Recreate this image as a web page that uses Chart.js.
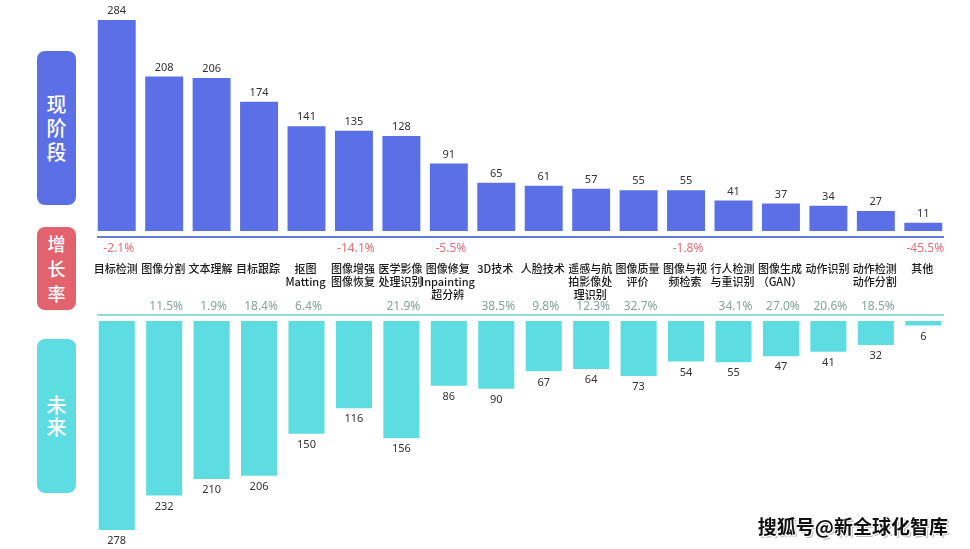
<!DOCTYPE html>
<html>
<head>
<meta charset="utf-8">
<script src="https://cdn.jsdelivr.net/npm/chart.js@4/dist/chart.umd.min.js"></script>
<style>
  html, body { margin: 0; padding: 0; background: #fff; }
  #wrap { position: relative; width: 970px; height: 549px; overflow: hidden; font-family: "Noto Sans CJK SC", "Noto Sans", sans-serif; }
  canvas { position: absolute; left: 0; }
  .tag { position: absolute; left: 37px; width: 39px; border-radius: 8px; color: #fff; display: flex; flex-direction: column; align-items: center; justify-content: center; font-weight: 500; }
  .mark { position: absolute; right: 22px; bottom: 10px; font-size: 19px; font-weight: 700; color: #111; letter-spacing: 0px;
    text-shadow: 1px 1px 0 #fff, -1px -1px 0 #fff, 1px -1px 0 #fff, -1px 1px 0 #fff, 2px 2px 0 #bbb; }
</style>
</head>
<body>
<div id="wrap">
  <div class="tag" style="top:51px;height:154px;background:#5b6fe6;font-size:20px;line-height:24px;">现<br>阶<br>段</div>
  <div class="tag" style="top:227px;height:83px;background:#e2636e;font-size:18px;line-height:25px;">增<br>长<br>率</div>
  <div class="tag" style="top:339px;height:154px;background:#5ddde1;font-size:20px;line-height:22px;">未<br>来</div>
  <canvas id="topChart" width="970" height="320" style="top:0"></canvas>
  <canvas id="botChart" width="970" height="249" style="top:300px"></canvas>
  <div class="mark">搜狐号@新全球化智库</div>
</div>
<script>
// categories (multi-line labels)
const categories = [
  ['目标检测'], ['图像分割'], ['文本理解'], ['目标跟踪'], ['抠图', 'Matting'],
  ['图像增强', '图像恢复'], ['医学影像', '处理识别'], ['图像修复', 'Inpainting', '超分辨'],
  ['3D技术'], ['人脸技术'], ['遥感与航', '拍影像处', '理识别'], ['图像质量', '评价'],
  ['图像与视', '频检索'], ['行人检测', '与重识别'], ['图像生成', '（GAN）'], ['动作识别'],
  ['动作检测', '动作分割'], ['其他']
];
const currentValues = [284, 208, 206, 174, 141, 135, 128, 91, 65, 61, 57, 55, 55, 41, 37, 34, 27, 11];
const futureValues = [278, 232, 210, 206, 150, 116, 156, 86, 90, 67, 64, 73, 54, 55, 47, 41, 32, 6];
const growthRates = [-2.1, 11.5, 1.9, 18.4, 6.4, -14.1, 21.9, -5.5, 38.5, 9.8, 12.3, 32.7, -1.8, 34.1, 27.0, 20.6, 18.5, -45.5];

const BLUE = '#5b6fe6';
const CYAN = '#5ddde1';
const numFont = '11px "Noto Sans", "Open Sans", sans-serif';

// numbers next to the bar ends
const valueLabels = {
  id: 'valueLabels',
  afterDatasetsDraw(chart, args, opts) {
    const ctx = chart.ctx;
    const meta = chart.getDatasetMeta(0);
    const data = chart.data.datasets[0].data;
    ctx.save();
    ctx.font = numFont;
    ctx.fillStyle = '#333';
    ctx.textAlign = 'center';
    ctx.textBaseline = 'middle';
    meta.data.forEach((bar, i) => {
      const p = bar.getProps(['x', 'y'], true);
      ctx.fillText(String(data[i]), p.x, p.y + opts.offset);
    });
    ctx.restore();
  }
};

// base line under / over the bars
const baseLine = {
  id: 'baseLine',
  afterDraw(chart, args, opts) {
    const ctx = chart.ctx;
    const a = chart.chartArea;
    ctx.save();
    ctx.strokeStyle = opts.color;
    ctx.lineWidth = 2;
    ctx.beginPath();
    ctx.moveTo(a.left + 4, opts.y);
    ctx.lineTo(a.right - 3, opts.y);
    ctx.stroke();
    ctx.restore();
  }
};

// category names and growth rates between the two charts
const middleText = {
  id: 'middleText',
  afterDraw(chart) {
    const ctx = chart.ctx;
    const x = chart.scales.x;
    ctx.save();
    ctx.textAlign = 'center';
    ctx.textBaseline = 'middle';
    categories.forEach((lines, i) => {
      const cx = x.getPixelForValue(i);
      ctx.font = '500 11px "Noto Sans CJK SC", sans-serif';
      ctx.fillStyle = '#1a1a1a';
      lines.forEach((t, k) => ctx.fillText(t, cx - 1, 269 + k * 13));
      const g = growthRates[i];
      ctx.font = '12px "Noto Sans", sans-serif';
      if (g < 0) {
        ctx.fillStyle = '#e0707c';
        ctx.fillText(g.toFixed(1) + '%', cx + 2, 249);
      } else {
        ctx.fillStyle = '#86a39c';
        ctx.fillText(g.toFixed(1) + '%', cx + 2, 307);
      }
    });
    ctx.restore();
  }
};

const commonScales = (max, reverse) => ({
  x: { type: 'category', display: false, offset: true },
  y: { display: false, min: 0, max: max, reverse: reverse }
});

new Chart(document.getElementById('topChart'), {
  type: 'bar',
  data: {
    labels: categories.map(c => c.join('')),
    datasets: [{ data: currentValues, backgroundColor: BLUE, barPercentage: 0.8, categoryPercentage: 1 }]
  },
  options: {
    responsive: false,
    animation: false,
    layout: { padding: { left: 93, right: 23, top: 20, bottom: 89 } },
    scales: commonScales(284, false),
    plugins: {
      legend: { display: false },
      tooltip: { enabled: false },
      valueLabels: { offset: -9 },
      baseLine: { y: 237, color: '#6a7bd8' }
    }
  },
  plugins: [valueLabels, baseLine, middleText]
});

new Chart(document.getElementById('botChart'), {
  type: 'bar',
  data: {
    labels: categories.map(c => c.join('')),
    datasets: [{ data: futureValues, backgroundColor: CYAN, barPercentage: 0.76, categoryPercentage: 1 }]
  },
  options: {
    responsive: false,
    animation: false,
    layout: { padding: { left: 93, right: 23, top: 21, bottom: 19 } },
    scales: commonScales(278, true),
    plugins: {
      legend: { display: false },
      tooltip: { enabled: false },
      valueLabels: { offset: 11 },
      baseLine: { y: 15, color: '#8fdcdc' }
    }
  },
  plugins: [valueLabels, baseLine]
});
</script>
</body>
</html>
